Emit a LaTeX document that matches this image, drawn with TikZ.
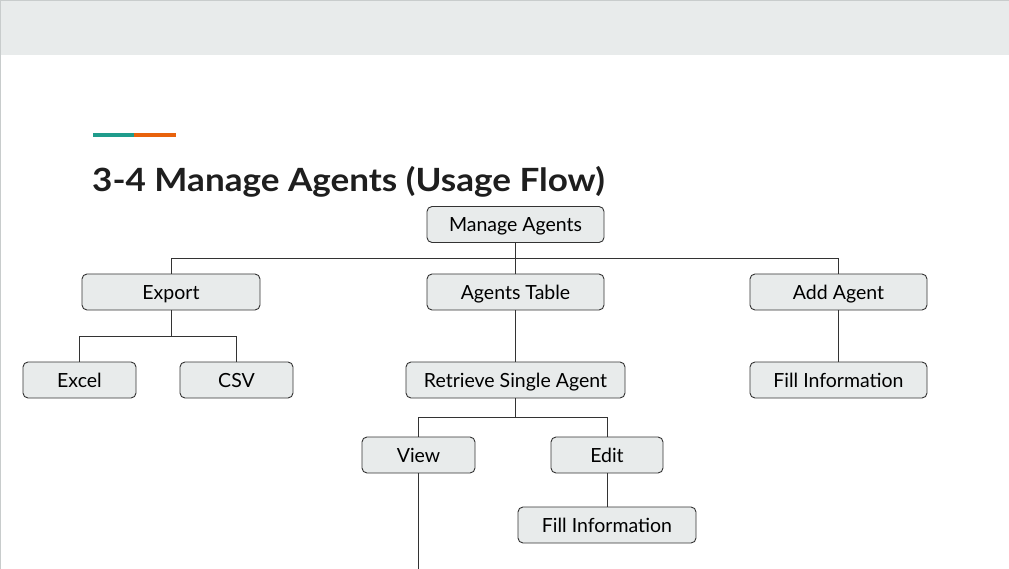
\documentclass[tikz,border=0pt]{standalone}
\usepackage{fontspec}
\setmainfont{Lato}
\newfontfamily\titlefont{Lato}[UprightFont=* Bold]
\definecolor{barbg}{HTML}{E8EBEB}
\definecolor{barline}{HTML}{C8CCCC}
\definecolor{nodebg}{HTML}{E8EBEB}
\definecolor{nodeline}{HTML}{333333}
\definecolor{accteal}{HTML}{1F9C8C}
\definecolor{accorange}{HTML}{E8620C}
\definecolor{titlecol}{HTML}{1E1E1E}
\tikzset{
  box/.style={draw=nodeline, fill=nodebg, rounded corners=5pt, line width=0.9pt,
    minimum height=36pt, inner sep=0pt, text height=14pt, text depth=0pt,
    font=\fontsize{19.5}{22}\selectfont, text=black},
  link/.style={draw=nodeline, line width=0.9pt},
}
\begin{document}
\begin{tikzpicture}[x=1pt,y=-1pt]
\useasboundingbox (0,0) rectangle (1009,569);
\fill[white] (0,0) rectangle (1009,569);
\fill[barbg] (0,0) rectangle (1009,55);
\draw[barline, line width=1.2pt] (0.6,569) -- (0.6,0.6) -- (1009,0.6);
\fill[accteal] (93,133) rectangle (134,137);
\fill[accorange] (134,133) rectangle (176,137);
\node[anchor=base west, inner sep=0pt, text=titlecol, font=\titlefont\fontsize{32}{36}\selectfont] (title) at (92,192) {\scalebox{1.096}[1]{3-4 Manage Agents (Usage Flow)}};

\node[box, minimum width=177pt] (manage) at (515.5,224.5) {Manage Agents};
\node[box, minimum width=178pt] (export) at (171,292) {Export};
\node[box, minimum width=177pt] (table) at (515.5,292) {Agents Table};
\node[box, minimum width=177pt] (add) at (838.5,292) {Add Agent};
\node[box, minimum width=113pt] (excel) at (79.5,380) {Excel};
\node[box, minimum width=113pt] (csv) at (236.5,380) {CSV};
\node[box, minimum width=219pt] (retrieve) at (515.5,380) {Retrieve Single Agent};
\node[box, minimum width=177pt] (fill1) at (838.5,380) {Fill Information};
\node[box, minimum width=113pt] (view) at (418.5,455) {View};
\node[box, minimum width=112pt] (edit) at (607,455) {Edit};
\node[box, minimum width=178pt] (fill2) at (607,525) {Fill Information};
\coordinate (viewend) at (418.5,572);

\draw[link] (manage.south) -- ++(0,16) -| (export.north);
\draw[link] (manage.south) -- ++(0,16) -| (add.north);
\draw[link] (manage.south) -- (table.north);
\draw[link] (export.south) -- ++(0,26) -| (excel.north);
\draw[link] (export.south) -- ++(0,26) -| (csv.north);
\draw[link] (table.south) -- (retrieve.north);
\draw[link] (add.south) -- (fill1.north);
\draw[link] (retrieve.south) -- ++(0,19) -| (view.north);
\draw[link] (retrieve.south) -- ++(0,19) -| (edit.north);
\draw[link] (edit.south) -- (fill2.north);
\draw[link] (view.south) -- (viewend);
\end{tikzpicture}
\end{document}
